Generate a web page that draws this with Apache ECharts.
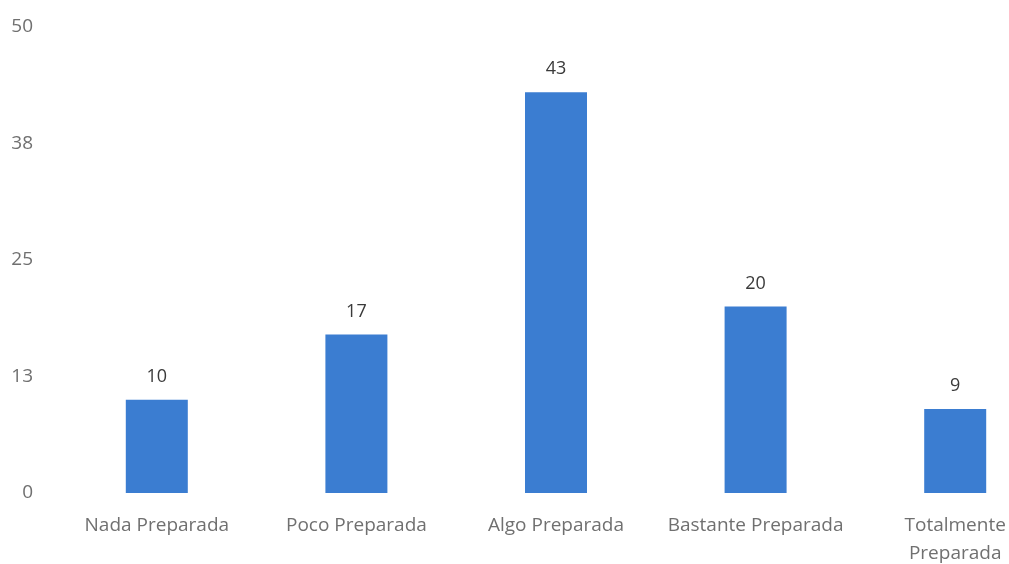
<!DOCTYPE html>
<html><head><meta charset="utf-8">
<script src="https://cdn.jsdelivr.net/npm/echarts@6/dist/echarts.min.js"></script>
<style>html,body{margin:0;padding:0;background:#fff}#c{width:1009px;height:564px}</style>
</head><body><div id="c"></div>
<script>
const categories = ['Nada Preparada', 'Poco Preparada', 'Algo Preparada', 'Bastante Preparada', 'Totalmente\nPreparada'];
const values = [10, 17, 43, 20, 9];
const yMin = 0, yMax = 50, yInterval = 12.5;

const chart = echarts.init(document.getElementById('c'));
chart.setOption({
  animation: false,
  textStyle: { fontFamily: 'Open Sans' },
  grid: { left: 57, top: 27, bottom: 71, width: 998, containLabel: false, outerBoundsMode: 'none' },
  xAxis: {
    type: 'category', data: categories,
    axisLine: { show: false }, axisTick: { show: false },
    axisLabel: { interval: 0, color: '#707070', fontSize: 19, margin: 19, lineHeight: 28, fontFamily: 'Open Sans' }
  },
  yAxis: {
    type: 'value', min: yMin, max: yMax, interval: yInterval,
    splitLine: { show: false }, axisLine: { show: false }, axisTick: { show: false },
    axisLabel: { color: '#707070', fontSize: 19, margin: 24, formatter: v => Math.round(v), fontFamily: 'Open Sans' }
  },
  series: [{
    type: 'bar', data: values, barWidth: 62,
    itemStyle: { color: '#3b7dd1' },
    label: { show: true, position: 'top', distance: 14, color: '#3a3a3a', fontSize: 18, fontFamily: 'Open Sans' }
  }]
});
</script></body></html>
